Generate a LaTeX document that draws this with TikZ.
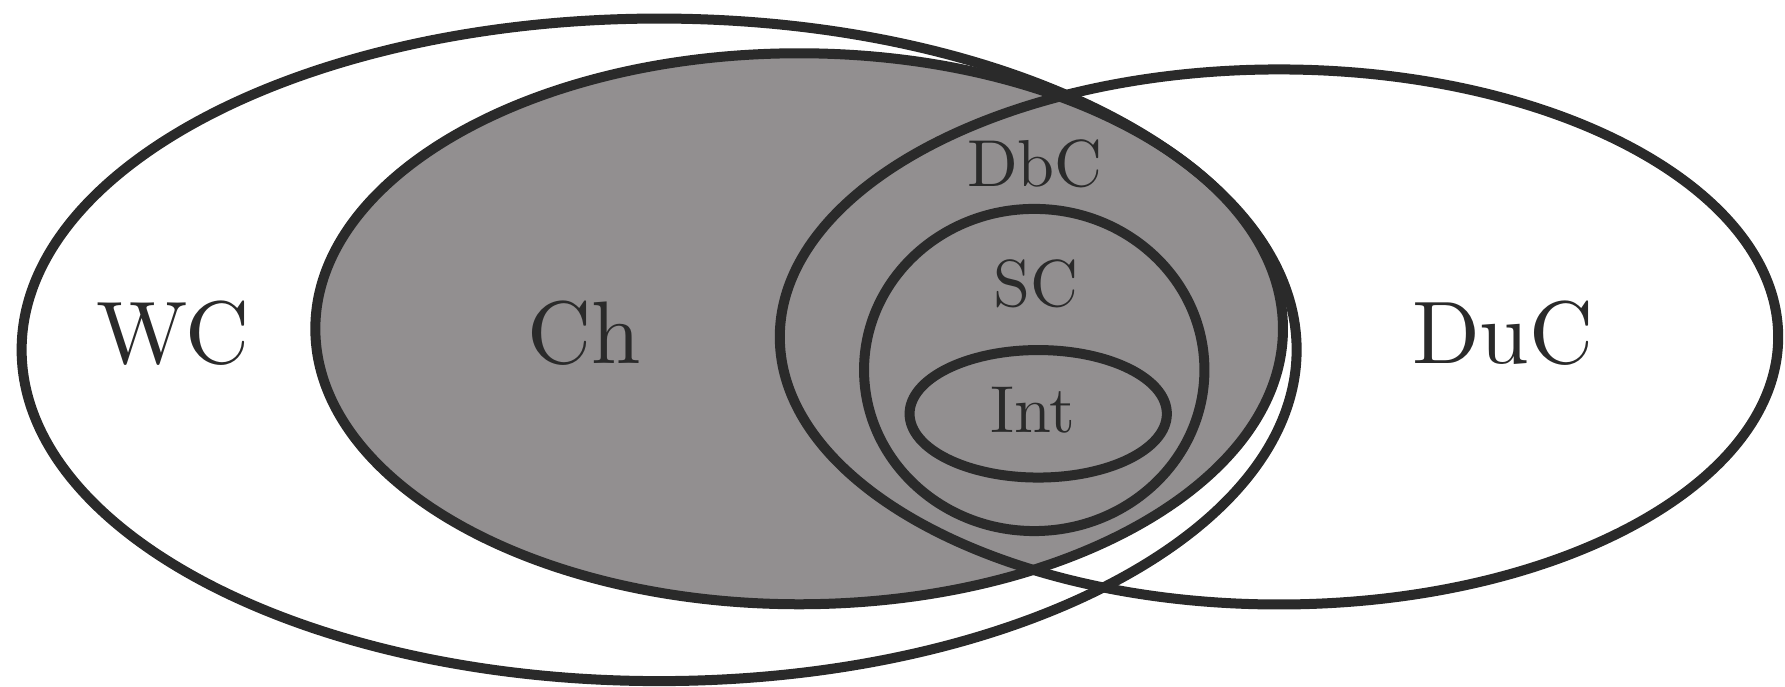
\documentclass[tikz,border=0pt]{standalone}
\usepackage{tikz}
\usetikzlibrary{arrows}

\definecolor{edge}{RGB}{42,42,42}
\definecolor{chgray}{RGB}{146,143,144}

\tikzset{
  set/.style={draw=edge, line width=2.5pt},
  biglabel/.style={text=edge, scale=2.22},
  smalllabel/.style={text=edge, scale=1.66}
}

\begin{document}
\begin{tikzpicture}[scale=1]
  \useasboundingbox (0,0) rectangle (15.68,6.03);
  % the shaded class
  \fill [chgray] (7.02,3.142) ellipse (4.25 and 2.42);
  % outlines
  \draw [set] (5.79,2.957) ellipse (5.60 and 2.91);
  \draw [set] (7.02,3.142) ellipse (4.25 and 2.42);
  \draw [set] (11.235,3.07) ellipse (4.385 and 2.35);
  \draw [set] (9.085,2.78) ellipse (1.495 and 1.415);
  \draw [set] (9.12,2.395) ellipse (1.13 and 0.56);
  % labels
  \node [biglabel] (wc) at (1.52,3.10) {WC};
  \node [biglabel] (ch) at (5.13,3.10) {Ch};
  \node [biglabel] (duc) at (13.20,3.10) {DuC};
  \node [smalllabel] (dbc) at (9.09,4.595) {DbC};
  \node [smalllabel] (sc) at (9.10,3.54) {SC};
  \node [smalllabel] (int) at (9.07,2.43) {Int};
\end{tikzpicture}
\end{document}
